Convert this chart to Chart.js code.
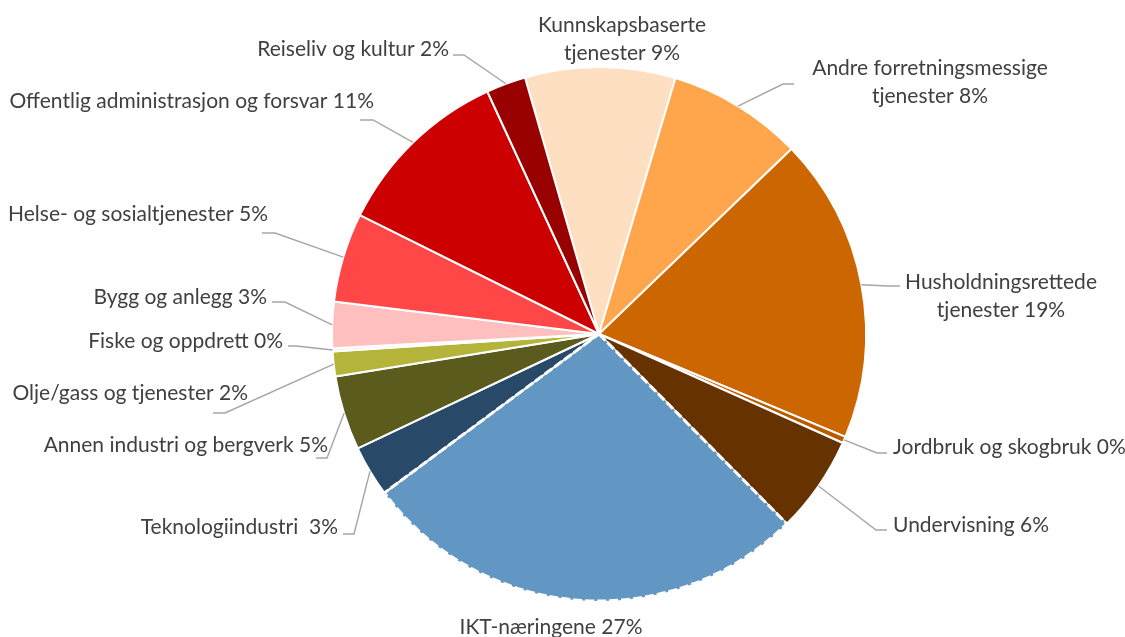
<!DOCTYPE html>
<html><head><meta charset="utf-8">
<script src="https://cdn.jsdelivr.net/npm/chart.js@4"></script>
<style>html,body{margin:0;padding:0;background:#fff}</style>
</head><body>
<canvas id="c" width="1125" height="637"></canvas>
<script>
const categories = [
  "Kunnskapsbaserte\ntjenester",
  "Andre forretningsmessige\ntjenester",
  "Husholdningsrettede\ntjenester",
  "Jordbruk og skogbruk",
  "Undervisning",
  "IKT-næringene",
  "Teknologiindustri ",
  "Annen industri og bergverk",
  "Olje/gass og tjenester",
  "Fiske og oppdrett",
  "Bygg og anlegg",
  "Helse- og sosialtjenester",
  "Offentlig administrasjon og forsvar",
  "Reiseliv og kultur"
];
const values = [9.1, 8.2, 18.5, 0.4, 5.9, 27.3, 3.1, 4.5, 1.5, 0.2, 2.8, 5.4, 10.8, 2.4];
const colors = ["#FEDFC2","#FFA64D","#CC6600","#B85C00","#663300","#6397C3","#284A68",
                "#5C5B1E","#B5B43A","#F2F2F2","#FFBFBF","#FF4747","#CC0000","#990000"];

// label layout (positions of texts and leader elbows)
const labelLayout = [
  {x:622, y:25, align:'center'},
  {x:930, y:68, align:'center', lead:[[794,84],[783,84]]},
  {x:1001, y:282, align:'center', lead:[[900,286],[888,286]]},
  {x:893, y:447, align:'left', lead:[[887,453],[877,453]]},
  {x:893, y:525, align:'left', lead:[[887,530],[876,530]]},
  {x:551, y:627, align:'center'},
  {x:338, y:527, align:'right', lead:[[343,534],[354,534]]},
  {x:328, y:445, align:'right', lead:[[316,458],[327,458]]},
  {x:248, y:393, align:'right', lead:[[213,413],[225,413]]},
  {x:283, y:341, align:'right', lead:[[288,346],[296,346]]},
  {x:267, y:297, align:'right', lead:[[272,302],[285,302]]},
  {x:268, y:214, align:'right', lead:[[262,233],[275,233]]},
  {x:374, y:101, align:'right', lead:[[360,120],[373,120]]},
  {x:449, y:49, align:'right', lead:[[453,55],[464,55]]}
];
const dashedIndex = 5;

const labelPlugin = {
  id: 'pieLabels',
  afterDatasetsDraw(chart) {
    const ctx = chart.ctx;
    const meta = chart.getDatasetMeta(0);
    // dashed white border around IKT slice
    const a = meta.data[dashedIndex];
    ctx.save();
    ctx.beginPath();
    ctx.moveTo(a.x, a.y);
    ctx.arc(a.x, a.y, a.outerRadius, a.startAngle, a.endAngle);
    ctx.closePath();
    ctx.strokeStyle = '#ffffff';
    ctx.lineWidth = 3;
    ctx.lineJoin = 'round';
    ctx.setLineDash([9, 3]);
    ctx.stroke();
    ctx.restore();

    ctx.save();
    ctx.font = '21px Lato';
    ctx.fillStyle = '#404040';
    ctx.textBaseline = 'middle';
    meta.data.forEach((arc, i) => {
      const L = labelLayout[i];
      if (L.lead) {
        const mid = (arc.startAngle + arc.endAngle) / 2;
        const ex = arc.x + arc.outerRadius * Math.cos(mid);
        const ey = arc.y + arc.outerRadius * Math.sin(mid);
        ctx.beginPath();
        ctx.moveTo(L.lead[0][0], L.lead[0][1]);
        ctx.lineTo(L.lead[1][0], L.lead[1][1]);
        ctx.lineTo(ex, ey);
        ctx.strokeStyle = '#A6A6A6';
        ctx.lineWidth = 1.4;
        ctx.stroke();
      }
      const txt = categories[i] + ' ' + Math.round(values[i]) + '%';
      const lines = txt.split('\n');
      ctx.textAlign = L.align;
      lines.forEach((ln, k) => ctx.fillText(ln, L.x, L.y + k * 28));
    });
    ctx.restore();
  }
};

new Chart(document.getElementById('c'), {
  type: 'pie',
  data: {
    labels: categories,
    datasets: [{
      data: values,
      backgroundColor: colors,
      borderColor: '#ffffff',
      borderWidth: values.map((v, i) => i === dashedIndex ? 0 : 2)
    }]
  },
  options: {
    responsive: false,
    animation: false,
    rotation: -16.1,
    layout: { padding: { left: 331, right: 258, top: 66, bottom: 35 } },
    plugins: { legend: { display: false }, tooltip: { enabled: false } }
  },
  plugins: [labelPlugin]
});
</script>
</body></html>
